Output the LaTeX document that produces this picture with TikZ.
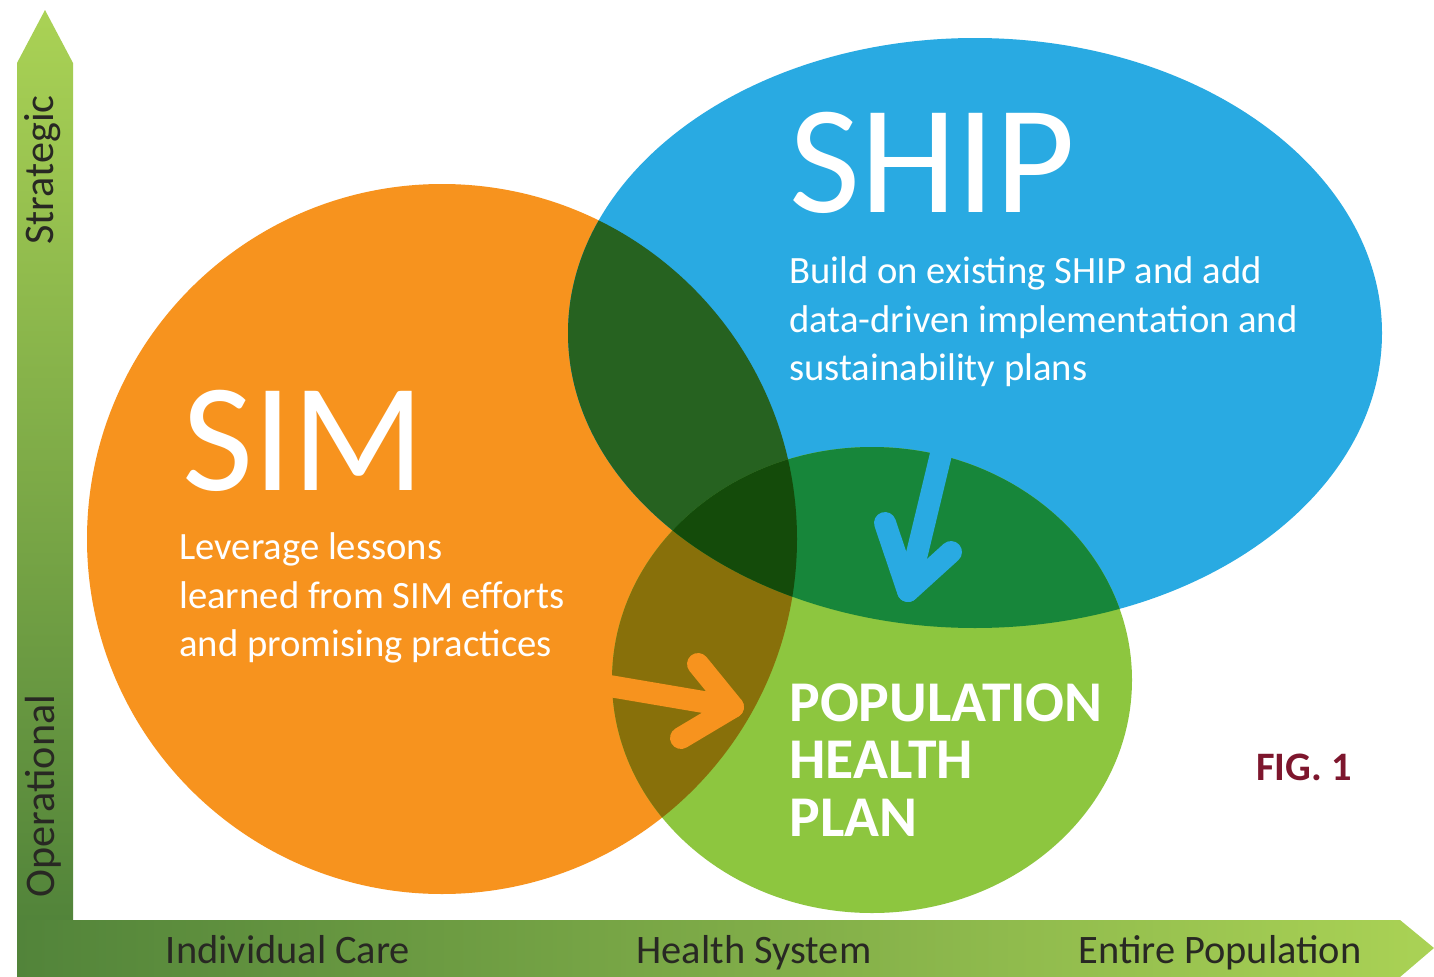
\documentclass[tikz,border=0pt]{standalone}
\usepackage{fontspec}
\setmainfont{Carlito}
\definecolor{simorange}{RGB}{247,147,30}
\definecolor{shipblue}{RGB}{41,170,226}
\definecolor{phpgreen}{RGB}{141,198,63}
\definecolor{simship}{RGB}{38,98,32}
\definecolor{simphp}{RGB}{136,112,10}
\definecolor{shipphp}{RGB}{23,134,58}
\definecolor{allthree}{RGB}{20,75,10}
\definecolor{axislight}{RGB}{170,210,85}
\definecolor{axisdark}{RGB}{82,132,58}
\definecolor{axisgray}{RGB}{40,40,35}
\definecolor{figred}{RGB}{125,22,45}
\begin{document}
\begin{tikzpicture}[x=0.02cm,y=-0.02cm,
    axistext/.style={font=\fontsize{23}{23}\selectfont, text=axisgray, inner sep=0pt},
    bigname/.style={font=\fontsize{88}{88}\selectfont, text=white, anchor=base west, inner sep=0pt},
    bodytext/.style={font=\fontsize{22}{27.8}\selectfont, text=white, align=left, anchor=north west, inner sep=0pt},
    plantext/.style={font=\bfseries\fontsize{32.8}{32.9}\selectfont, text=white, align=left, anchor=north west, inner sep=0pt},
    chevron/.style={line width=12.5pt, line cap=round, line join=round}]
  \useasboundingbox (0,0) rectangle (1434,977);
  \fill[white] (0,0) rectangle (1434,977);

  % axes
  \shade[top color=axislight, bottom color=axisdark]
    (17,920) -- (17,63) -- (45,10) -- (73,63) -- (73,920) -- cycle;
  \shade[left color=axisdark, right color=axislight]
    (17,920) -- (1400,920) -- (1434,948) -- (1400,977) -- (17,977) -- cycle;
  \node[axistext, rotate=90, font=\fontsize{24}{24}\selectfont] (strat) at (43,170) {Strategic};
  \node[axistext, rotate=90, font=\fontsize{24}{24}\selectfont] (oper) at (43,796) {Operational};
  \node[axistext, anchor=base] (indiv) at (288,963) {Individual Care};
  \node[axistext, anchor=base] (hsys) at (754,963) {Health System};
  \node[axistext, anchor=base] (entire) at (1220,963) {Entire Population};

  % the three sets
  \fill[simorange] (442,539) circle [radius=355];
  \fill[shipblue] (975,333) ellipse [x radius=407, y radius=295];
  \fill[phpgreen] (872,680) ellipse [x radius=260, y radius=233];
  \begin{scope}
    \clip (442,539) circle [radius=355];
    \fill[simship] (975,333) ellipse [x radius=407, y radius=295];
    \fill[simphp] (872,680) ellipse [x radius=260, y radius=233];
  \end{scope}
  \begin{scope}
    \clip (975,333) ellipse [x radius=407, y radius=295];
    \fill[shipphp] (872,680) ellipse [x radius=260, y radius=233];
  \end{scope}
  \begin{scope}
    \clip (442,539) circle [radius=355];
    \clip (975,333) ellipse [x radius=407, y radius=295];
    \fill[allthree] (872,680) ellipse [x radius=260, y radius=233];
  \end{scope}

  % arrows into the plan
  \coordinate (simtail) at (580,681);
  \coordinate (simtip) at (733,707);
  \coordinate (simup) at (698,664);
  \coordinate (simdown) at (681,738);
  \coordinate (shiptail) at (948,425);
  \coordinate (shiptip) at (908,591);
  \coordinate (shipleft) at (885,523);
  \coordinate (shipright) at (951,552);
  \draw[chevron, simorange] (simtail) -- (simtip);
  \draw[chevron, simorange] (simup) -- (simtip) -- (simdown);
  \draw[chevron, shipblue] (shiptail) -- (shiptip);
  \draw[chevron, shipblue] (shipleft) -- (shiptip) -- (shipright);

  % texts
  \node[bigname] (ship) at (789,212) {SHIP};
  \node[bodytext] (shipnote) at (789,256) {Build on existing SHIP and add\\
    data-driven implementation and\\ sustainability plans};
  \node[bigname] (sim) at (182,490) {SIM};
  \node[bodytext] (simnote) at (179,532) {Leverage lessons\\
    learned from SIM efforts\\ and promising practices};
  \node[plantext] (php) at (789,683) {POPULATION\\ HEALTH\\ PLAN};
  \node[font=\bfseries\fontsize{23}{23}\selectfont, text=figred, anchor=base west, inner sep=0pt]
    (fig) at (1256,780) {FIG. 1};
\end{tikzpicture}
\end{document}
